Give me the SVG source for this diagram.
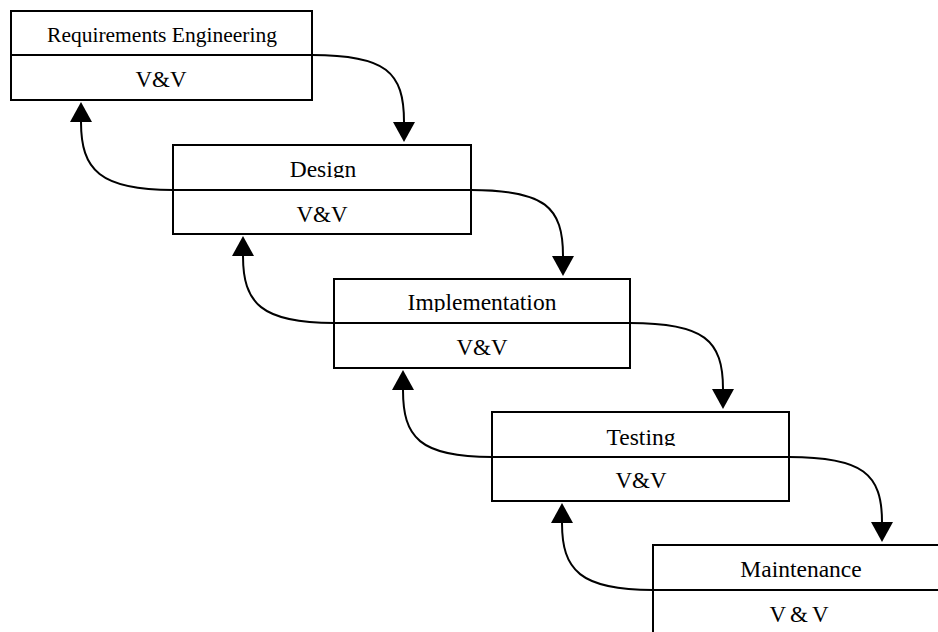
<svg xmlns="http://www.w3.org/2000/svg" width="938" height="632" viewBox="0 0 938 632">
  <style>
    .box { fill: #ffffff; stroke: #000000; stroke-width: 2; }
    .div { stroke: #000000; stroke-width: 2; }
    .lbl { font-family: "Liberation Serif", "Times New Roman", serif; font-size: 23.5px; fill: #000000; text-anchor: middle; }
    .vv { font-family: "Liberation Serif", "Times New Roman", serif; font-size: 23px; fill: #000000; text-anchor: middle; }
    .flow { fill: none; stroke: #000000; stroke-width: 2; }
  </style>
  <defs>
    <marker id="head" markerUnits="userSpaceOnUse" viewBox="0 0 20 22" markerWidth="20" markerHeight="22" refX="0" refY="11" orient="auto">
      <path d="M0,0 L20,11 L0,22 Z" fill="#000000"/>
    </marker>
    <!-- title rows whose descenders are cut by the divider -->
    <clipPath id="clip-design"><rect x="173" y="145" width="298" height="33"/></clipPath>
    <clipPath id="clip-impl"><rect x="334" y="279" width="296" height="33"/></clipPath>
    <clipPath id="clip-test"><rect x="492" y="412" width="297" height="34"/></clipPath>
  </defs>

  <g id="requirements">
    <rect class="box" x="11" y="11" width="301" height="89"/>
    <line class="div" x1="11" y1="55" x2="312" y2="55"/>
    <text class="lbl" x="162" y="42" style="font-size:21.5px">Requirements Engineering</text>
    <text class="vv" x="161" y="87">V&amp;V</text>
  </g>

  <g id="design">
    <rect class="box" x="173" y="145" width="298" height="89"/>
    <line class="div" x1="173" y1="190" x2="471" y2="190"/>
    <text class="lbl" x="323" y="177" clip-path="url(#clip-design)">Design</text>
    <text class="vv" x="322" y="222">V&amp;V</text>
  </g>

  <g id="implementation">
    <rect class="box" x="334" y="279" width="296" height="89"/>
    <line class="div" x1="334" y1="323" x2="630" y2="323"/>
    <text class="lbl" x="482" y="310" clip-path="url(#clip-impl)">Implementation</text>
    <text class="vv" x="482" y="355">V&amp;V</text>
  </g>

  <g id="testing">
    <rect class="box" x="492" y="412" width="297" height="89"/>
    <line class="div" x1="492" y1="457" x2="789" y2="457"/>
    <text class="lbl" x="641" y="445" clip-path="url(#clip-test)">Testing</text>
    <text class="vv" x="641" y="488">V&amp;V</text>
  </g>

  <g id="maintenance">
    <rect class="box" x="653" y="545" width="306" height="95"/>
    <line class="div" x1="653" y1="590" x2="959" y2="590"/>
    <text class="lbl" x="801" y="577">Maintenance</text>
    <text class="vv" x="801" y="622" style="letter-spacing:4px">V&amp;V</text>
  </g>

  <g id="connectors">
    <!-- forward flow: right end of each divider down to the next phase -->
    <path class="flow" marker-end="url(#head)" d="M312,55 C386,55 404,72 404,122"/>
    <path class="flow" marker-end="url(#head)" d="M471,190 C545,190 563,207 563,256"/>
    <path class="flow" marker-end="url(#head)" d="M630,323 C704,323 723,340 723,389"/>
    <path class="flow" marker-end="url(#head)" d="M789,457 C863,457 882,474 882,522"/>
    <!-- feedback: left end of each divider back up to the previous phase -->
    <path class="flow" marker-end="url(#head)" d="M173,190 C100,190 81,170 81,122"/>
    <path class="flow" marker-end="url(#head)" d="M334,323 C261,323 243,303 243,256"/>
    <path class="flow" marker-end="url(#head)" d="M492,457 C419,457 403,437 403,390"/>
    <path class="flow" marker-end="url(#head)" d="M653,590 C580,590 562,570 562,523"/>
  </g>
</svg>
